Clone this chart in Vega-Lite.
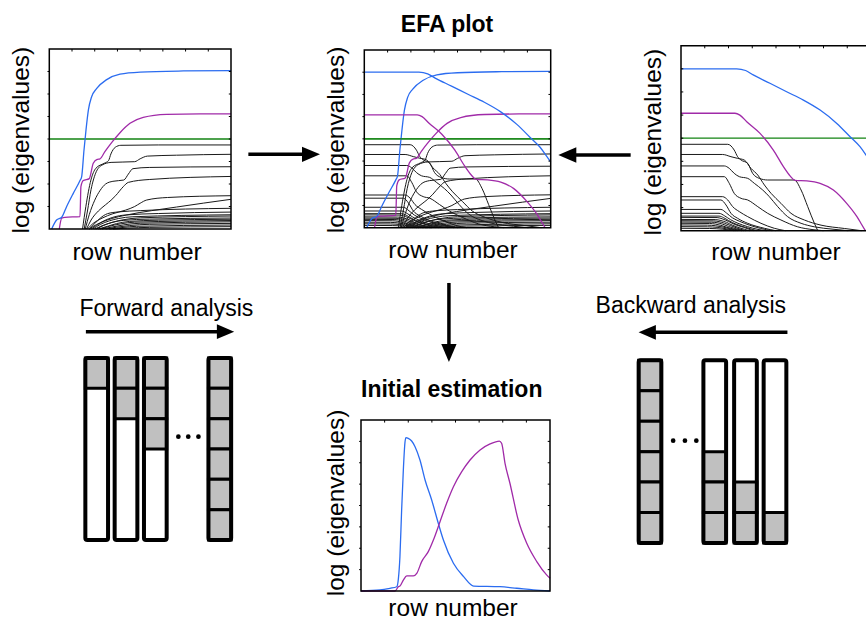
{
"$schema":"https://vega.github.io/schema/vega-lite/v6.json",
"width":866,"height":623,"autosize":{"type":"none"},"padding":0,"background":"white",
"config":{"view":{"stroke":null},"font":"Liberation Sans","axis":{"grid":false}},
"datasets":{
"ticks":[{"t":12.5},{"t":25},{"t":37.5},{"t":50},{"t":62.5},{"t":75},{"t":87.5}],
"fwd":[
{"id":"F1","kind":"black","x":18.3,"y":0},{"id":"F1","kind":"black","x":20.1,"y":12.4},{"id":"F1","kind":"black","x":22.9,"y":27.2},{"id":"F1","kind":"black","x":25.6,"y":33.7},{"id":"F1","kind":"black","x":30.2,"y":36.5},{"id":"F1","kind":"black","x":32.6,"y":38},{"id":"F1","kind":"black","x":33.9,"y":41.7},{"id":"F1","kind":"black","x":36.3,"y":45.4},{"id":"F1","kind":"black","x":39.4,"y":46.5},{"id":"F1","kind":"black","x":60,"y":46.7},{"id":"F1","kind":"black","x":100,"y":46.7},
{"id":"F2","kind":"black","x":19.2,"y":0},{"id":"F2","kind":"black","x":21,"y":10},{"id":"F2","kind":"black","x":23,"y":22},{"id":"F2","kind":"black","x":25.5,"y":31},{"id":"F2","kind":"black","x":29,"y":35.5},{"id":"F2","kind":"black","x":34,"y":37},{"id":"F2","kind":"black","x":47,"y":37.4},{"id":"F2","kind":"black","x":50,"y":39},{"id":"F2","kind":"black","x":54,"y":40.5},{"id":"F2","kind":"black","x":70,"y":41},{"id":"F2","kind":"black","x":100,"y":41.5},
{"id":"F3","kind":"black","x":19.8,"y":0},{"id":"F3","kind":"black","x":22,"y":8},{"id":"F3","kind":"black","x":25,"y":16},{"id":"F3","kind":"black","x":28,"y":21.5},{"id":"F3","kind":"black","x":31,"y":25},{"id":"F3","kind":"black","x":35,"y":26.5},{"id":"F3","kind":"black","x":41,"y":27.2},{"id":"F3","kind":"black","x":43.5,"y":30.5},{"id":"F3","kind":"black","x":46,"y":33.5},{"id":"F3","kind":"black","x":55,"y":34.2},{"id":"F3","kind":"black","x":100,"y":34.6},
{"id":"F4","kind":"black","x":20.5,"y":0},{"id":"F4","kind":"black","x":23,"y":5},{"id":"F4","kind":"black","x":27,"y":10},{"id":"F4","kind":"black","x":31,"y":13.5},{"id":"F4","kind":"black","x":34,"y":16},{"id":"F4","kind":"black","x":36.5,"y":18.5},{"id":"F4","kind":"black","x":40.7,"y":23.5},{"id":"F4","kind":"black","x":43.5,"y":25.9},{"id":"F4","kind":"black","x":55,"y":27.5},{"id":"F4","kind":"black","x":100,"y":29.2},
{"id":"F5","kind":"black","x":21,"y":0},{"id":"F5","kind":"black","x":24,"y":3},{"id":"F5","kind":"black","x":29,"y":6},{"id":"F5","kind":"black","x":35,"y":8.5},{"id":"F5","kind":"black","x":42,"y":10.5},{"id":"F5","kind":"black","x":47,"y":12.5},{"id":"F5","kind":"black","x":50,"y":14.3},{"id":"F5","kind":"black","x":53.6,"y":16.1},{"id":"F5","kind":"black","x":65,"y":17.5},{"id":"F5","kind":"black","x":100,"y":18.5},
{"id":"F6","kind":"black","x":22,"y":0},{"id":"F6","kind":"black","x":26,"y":2.5},{"id":"F6","kind":"black","x":32,"y":5},{"id":"F6","kind":"black","x":38,"y":6.8},{"id":"F6","kind":"black","x":42.6,"y":7.8},{"id":"F6","kind":"black","x":70,"y":12.2},{"id":"F6","kind":"black","x":100,"y":16.5},
{"id":"F7","kind":"black","x":22,"y":0},{"id":"F7","kind":"black","x":25,"y":3},{"id":"F7","kind":"black","x":28,"y":6},{"id":"F7","kind":"black","x":32,"y":8.5},{"id":"F7","kind":"black","x":38,"y":9.5},{"id":"F7","kind":"black","x":50,"y":10.2},{"id":"F7","kind":"black","x":100,"y":11.5},
{"id":"F8","kind":"black","x":23,"y":0},{"id":"F8","kind":"black","x":26,"y":2},{"id":"F8","kind":"black","x":30,"y":4.5},{"id":"F8","kind":"black","x":35,"y":6.5},{"id":"F8","kind":"black","x":42,"y":7.8},{"id":"F8","kind":"black","x":60,"y":8.6},{"id":"F8","kind":"black","x":100,"y":9.4},
{"id":"F9","kind":"black","x":24,"y":0},{"id":"F9","kind":"black","x":28,"y":2.5},{"id":"F9","kind":"black","x":33,"y":4.5},{"id":"F9","kind":"black","x":38,"y":5.8},{"id":"F9","kind":"black","x":46,"y":6.8},{"id":"F9","kind":"black","x":100,"y":7.9},
{"id":"F10","kind":"black","x":25,"y":0},{"id":"F10","kind":"black","x":29,"y":1.8},{"id":"F10","kind":"black","x":34,"y":3.5},{"id":"F10","kind":"black","x":40,"y":5},{"id":"F10","kind":"black","x":50,"y":6.2},{"id":"F10","kind":"black","x":100,"y":7.2},
{"id":"F11","kind":"black","x":26,"y":0},{"id":"F11","kind":"black","x":30,"y":2},{"id":"F11","kind":"black","x":35,"y":3.8},{"id":"F11","kind":"black","x":41,"y":4.8},{"id":"F11","kind":"black","x":55,"y":5.5},{"id":"F11","kind":"black","x":100,"y":6.1},
{"id":"F12","kind":"black","x":27,"y":0},{"id":"F12","kind":"black","x":32,"y":1.5},{"id":"F12","kind":"black","x":37,"y":3},{"id":"F12","kind":"black","x":44,"y":4.2},{"id":"F12","kind":"black","x":60,"y":4.9},{"id":"F12","kind":"black","x":100,"y":5.4},
{"id":"F13","kind":"black","x":28,"y":0},{"id":"F13","kind":"black","x":33,"y":1.5},{"id":"F13","kind":"black","x":39,"y":2.8},{"id":"F13","kind":"black","x":47,"y":3.8},{"id":"F13","kind":"black","x":100,"y":4.7},
{"id":"F14","kind":"black","x":29,"y":0},{"id":"F14","kind":"black","x":35,"y":1.2},{"id":"F14","kind":"black","x":41,"y":2.3},{"id":"F14","kind":"black","x":50,"y":3.2},{"id":"F14","kind":"black","x":100,"y":4},
{"id":"F15","kind":"black","x":31,"y":0},{"id":"F15","kind":"black","x":37,"y":1},{"id":"F15","kind":"black","x":44,"y":1.9},{"id":"F15","kind":"black","x":55,"y":2.6},{"id":"F15","kind":"black","x":100,"y":3.1},
{"id":"F16","kind":"black","x":33,"y":0},{"id":"F16","kind":"black","x":40,"y":0.8},{"id":"F16","kind":"black","x":48,"y":1.5},{"id":"F16","kind":"black","x":100,"y":2.2},
{"id":"F17","kind":"black","x":35,"y":0},{"id":"F17","kind":"black","x":43,"y":0.5},{"id":"F17","kind":"black","x":55,"y":0.9},{"id":"F17","kind":"black","x":100,"y":1.3},
{"id":"FG","kind":"green","x":0,"y":50},{"id":"FG","kind":"green","x":100,"y":50},
{"id":"FM","kind":"magenta","x":5.5,"y":0},{"id":"FM","kind":"magenta","x":6.8,"y":6},{"id":"FM","kind":"magenta","x":8.6,"y":6.5},{"id":"FM","kind":"magenta","x":16.9,"y":6.9},{"id":"FM","kind":"magenta","x":17.4,"y":23.5},{"id":"FM","kind":"magenta","x":18.7,"y":26.9},{"id":"FM","kind":"magenta","x":22,"y":28},{"id":"FM","kind":"magenta","x":24.2,"y":36.5},{"id":"FM","kind":"magenta","x":26.4,"y":38.7},{"id":"FM","kind":"magenta","x":27.9,"y":39},{"id":"FM","kind":"magenta","x":30.6,"y":43},{"id":"FM","kind":"magenta","x":34.3,"y":48},{"id":"FM","kind":"magenta","x":38.9,"y":53.5},{"id":"FM","kind":"magenta","x":44.4,"y":58.7},{"id":"FM","kind":"magenta","x":51.7,"y":62},{"id":"FM","kind":"magenta","x":64.6,"y":63.7},{"id":"FM","kind":"magenta","x":83,"y":64},{"id":"FM","kind":"magenta","x":100,"y":64},
{"id":"FB","kind":"blue","x":1.3,"y":0},{"id":"FB","kind":"blue","x":4,"y":5},{"id":"FB","kind":"blue","x":6.8,"y":6.5},{"id":"FB","kind":"blue","x":9.5,"y":12.4},{"id":"FB","kind":"blue","x":13.2,"y":19.8},{"id":"FB","kind":"blue","x":16.9,"y":26.9},{"id":"FB","kind":"blue","x":17.8,"y":29},{"id":"FB","kind":"blue","x":19.1,"y":43.9},{"id":"FB","kind":"blue","x":20.2,"y":55},{"id":"FB","kind":"blue","x":21.5,"y":66},{"id":"FB","kind":"blue","x":23.3,"y":73.5},{"id":"FB","kind":"blue","x":26,"y":78},{"id":"FB","kind":"blue","x":31.6,"y":83},{"id":"FB","kind":"blue","x":38.9,"y":86},{"id":"FB","kind":"blue","x":50,"y":87.2},{"id":"FB","kind":"blue","x":73.8,"y":87.8},{"id":"FB","kind":"blue","x":100,"y":88}
],
"bwd":[
{"id":"B1","kind":"black","x":0,"y":46.7},{"id":"B1","kind":"black","x":24.6,"y":46.7},{"id":"B1","kind":"black","x":28,"y":43.6},{"id":"B1","kind":"black","x":29.8,"y":40},{"id":"B1","kind":"black","x":31.6,"y":38.2},{"id":"B1","kind":"black","x":35.1,"y":36.4},{"id":"B1","kind":"black","x":37.7,"y":31},{"id":"B1","kind":"black","x":41.2,"y":28.3},{"id":"B1","kind":"black","x":45.6,"y":27.4},{"id":"B1","kind":"black","x":59.6,"y":27.4},{"id":"B1","kind":"black","x":63.2,"y":22},{"id":"B1","kind":"black","x":66.7,"y":13},{"id":"B1","kind":"black","x":70.2,"y":4},{"id":"B1","kind":"black","x":72,"y":0},
{"id":"B2","kind":"black","x":0,"y":41.2},{"id":"B2","kind":"black","x":21.9,"y":41.2},{"id":"B2","kind":"black","x":26.3,"y":40},{"id":"B2","kind":"black","x":29.8,"y":39.1},{"id":"B2","kind":"black","x":33.3,"y":38.2},{"id":"B2","kind":"black","x":36.8,"y":33.7},{"id":"B2","kind":"black","x":40.4,"y":30.1},{"id":"B2","kind":"black","x":43.9,"y":24.7},{"id":"B2","kind":"black","x":47.4,"y":20.2},{"id":"B2","kind":"black","x":52.6,"y":14.8},{"id":"B2","kind":"black","x":57.9,"y":9.4},{"id":"B2","kind":"black","x":64.9,"y":5.8},{"id":"B2","kind":"black","x":73.7,"y":3},{"id":"B2","kind":"black","x":86,"y":1.2},{"id":"B2","kind":"black","x":95,"y":0},
{"id":"B3","kind":"black","x":0,"y":35},{"id":"B3","kind":"black","x":22.8,"y":35},{"id":"B3","kind":"black","x":25.4,"y":33.7},{"id":"B3","kind":"black","x":28,"y":31},{"id":"B3","kind":"black","x":30.7,"y":29.2},{"id":"B3","kind":"black","x":35.1,"y":28.3},{"id":"B3","kind":"black","x":38.6,"y":25.6},{"id":"B3","kind":"black","x":43,"y":22},{"id":"B3","kind":"black","x":46.5,"y":18.4},{"id":"B3","kind":"black","x":50.9,"y":13},{"id":"B3","kind":"black","x":56.1,"y":7.6},{"id":"B3","kind":"black","x":63.2,"y":4},{"id":"B3","kind":"black","x":70.2,"y":2.1},{"id":"B3","kind":"black","x":80,"y":0.8},{"id":"B3","kind":"black","x":88,"y":0},
{"id":"B4","kind":"black","x":0,"y":29.2},{"id":"B4","kind":"black","x":22.8,"y":29.2},{"id":"B4","kind":"black","x":25.4,"y":25.6},{"id":"B4","kind":"black","x":28,"y":20.2},{"id":"B4","kind":"black","x":31.6,"y":17.5},{"id":"B4","kind":"black","x":35.1,"y":16.6},{"id":"B4","kind":"black","x":40.4,"y":13},{"id":"B4","kind":"black","x":45.6,"y":9.4},{"id":"B4","kind":"black","x":52.6,"y":5.8},{"id":"B4","kind":"black","x":61.4,"y":2.1},{"id":"B4","kind":"black","x":70,"y":0.5},{"id":"B4","kind":"black","x":75,"y":0},
{"id":"B5","kind":"black","x":0,"y":18.4},{"id":"B5","kind":"black","x":21.9,"y":18.4},{"id":"B5","kind":"black","x":24.6,"y":16.6},{"id":"B5","kind":"black","x":27.2,"y":13},{"id":"B5","kind":"black","x":30.7,"y":10.3},{"id":"B5","kind":"black","x":35.1,"y":7.6},{"id":"B5","kind":"black","x":42.1,"y":4},{"id":"B5","kind":"black","x":49.1,"y":1.3},{"id":"B5","kind":"black","x":55,"y":0},
{"id":"B6","kind":"black","x":0,"y":16.6},{"id":"B6","kind":"black","x":21,"y":16.6},{"id":"B6","kind":"black","x":23.7,"y":13.9},{"id":"B6","kind":"black","x":26.3,"y":9.4},{"id":"B6","kind":"black","x":29.8,"y":6.7},{"id":"B6","kind":"black","x":35.1,"y":4},{"id":"B6","kind":"black","x":43.9,"y":1.3},{"id":"B6","kind":"black","x":50,"y":0},
{"id":"B7","kind":"black","x":0,"y":11.5},{"id":"B7","kind":"black","x":21,"y":11.5},{"id":"B7","kind":"black","x":24,"y":9.5},{"id":"B7","kind":"black","x":27,"y":7},{"id":"B7","kind":"black","x":31,"y":5},{"id":"B7","kind":"black","x":36,"y":3},{"id":"B7","kind":"black","x":42,"y":1.2},{"id":"B7","kind":"black","x":48,"y":0},
{"id":"B8","kind":"black","x":0,"y":9.4},{"id":"B8","kind":"black","x":20,"y":9.4},{"id":"B8","kind":"black","x":23,"y":8},{"id":"B8","kind":"black","x":26,"y":6},{"id":"B8","kind":"black","x":30,"y":4},{"id":"B8","kind":"black","x":35,"y":2.2},{"id":"B8","kind":"black","x":40,"y":0.8},{"id":"B8","kind":"black","x":45,"y":0},
{"id":"B9","kind":"black","x":0,"y":7.9},{"id":"B9","kind":"black","x":20,"y":7.9},{"id":"B9","kind":"black","x":22.5,"y":7},{"id":"B9","kind":"black","x":25,"y":5.5},{"id":"B9","kind":"black","x":29,"y":3.5},{"id":"B9","kind":"black","x":34,"y":1.8},{"id":"B9","kind":"black","x":40,"y":0},
{"id":"B10","kind":"black","x":0,"y":7.2},{"id":"B10","kind":"black","x":19,"y":7.1},{"id":"B10","kind":"black","x":22,"y":6.3},{"id":"B10","kind":"black","x":25,"y":5},{"id":"B10","kind":"black","x":28,"y":3.5},{"id":"B10","kind":"black","x":33,"y":1.8},{"id":"B10","kind":"black","x":38,"y":0},
{"id":"B11","kind":"black","x":0,"y":6.1},{"id":"B11","kind":"black","x":18,"y":6},{"id":"B11","kind":"black","x":21,"y":5.5},{"id":"B11","kind":"black","x":24,"y":4.5},{"id":"B11","kind":"black","x":27,"y":3},{"id":"B11","kind":"black","x":31,"y":1.5},{"id":"B11","kind":"black","x":36,"y":0},
{"id":"B12","kind":"black","x":0,"y":5.4},{"id":"B12","kind":"black","x":17,"y":5.3},{"id":"B12","kind":"black","x":20,"y":4.9},{"id":"B12","kind":"black","x":23,"y":4},{"id":"B12","kind":"black","x":26,"y":2.8},{"id":"B12","kind":"black","x":30,"y":1.2},{"id":"B12","kind":"black","x":34,"y":0},
{"id":"B13","kind":"black","x":0,"y":4.7},{"id":"B13","kind":"black","x":16,"y":4.6},{"id":"B13","kind":"black","x":19,"y":4.3},{"id":"B13","kind":"black","x":22,"y":3.5},{"id":"B13","kind":"black","x":25,"y":2.3},{"id":"B13","kind":"black","x":29,"y":1},{"id":"B13","kind":"black","x":33,"y":0},
{"id":"B14","kind":"black","x":0,"y":4},{"id":"B14","kind":"black","x":15,"y":3.9},{"id":"B14","kind":"black","x":18,"y":3.6},{"id":"B14","kind":"black","x":21,"y":2.9},{"id":"B14","kind":"black","x":24,"y":1.9},{"id":"B14","kind":"black","x":28,"y":0.8},{"id":"B14","kind":"black","x":32,"y":0},
{"id":"B15","kind":"black","x":0,"y":3.1},{"id":"B15","kind":"black","x":14,"y":3},{"id":"B15","kind":"black","x":18,"y":2.7},{"id":"B15","kind":"black","x":22,"y":2},{"id":"B15","kind":"black","x":26,"y":1},{"id":"B15","kind":"black","x":30,"y":0},
{"id":"B16","kind":"black","x":0,"y":2.2},{"id":"B16","kind":"black","x":14,"y":2.1},{"id":"B16","kind":"black","x":19,"y":1.8},{"id":"B16","kind":"black","x":24,"y":1},{"id":"B16","kind":"black","x":29,"y":0},
{"id":"B17","kind":"black","x":0,"y":1.3},{"id":"B17","kind":"black","x":15,"y":1.2},{"id":"B17","kind":"black","x":22,"y":0.8},{"id":"B17","kind":"black","x":28,"y":0},
{"id":"BG","kind":"green","x":0,"y":50},{"id":"BG","kind":"green","x":100,"y":50},
{"id":"BM","kind":"magenta","x":0,"y":63.5},{"id":"BM","kind":"magenta","x":28.4,"y":63.5},{"id":"BM","kind":"magenta","x":31,"y":62.5},{"id":"BM","kind":"magenta","x":34.6,"y":58.9},{"id":"BM","kind":"magenta","x":41.6,"y":52.6},{"id":"BM","kind":"magenta","x":48.6,"y":43.6},{"id":"BM","kind":"magenta","x":53.9,"y":34.6},{"id":"BM","kind":"magenta","x":57.5,"y":29.5},{"id":"BM","kind":"magenta","x":60,"y":27.2},{"id":"BM","kind":"magenta","x":66.2,"y":26.9},{"id":"BM","kind":"magenta","x":73.2,"y":25.6},{"id":"BM","kind":"magenta","x":80.2,"y":22},{"id":"BM","kind":"magenta","x":87.2,"y":14.8},{"id":"BM","kind":"magenta","x":92.6,"y":7.6},{"id":"BM","kind":"magenta","x":95,"y":3.5},{"id":"BM","kind":"magenta","x":97,"y":0},
{"id":"BB","kind":"blue","x":0,"y":87.5},{"id":"BB","kind":"blue","x":29.3,"y":87.5},{"id":"BB","kind":"blue","x":34,"y":86.6},{"id":"BB","kind":"blue","x":38,"y":84.2},{"id":"BB","kind":"blue","x":46.8,"y":79.7},{"id":"BB","kind":"blue","x":55.6,"y":75.1},{"id":"BB","kind":"blue","x":64.4,"y":70.6},{"id":"BB","kind":"blue","x":73.2,"y":65.2},{"id":"BB","kind":"blue","x":82,"y":58},{"id":"BB","kind":"blue","x":89,"y":50.8},{"id":"BB","kind":"blue","x":94.2,"y":45.4},{"id":"BB","kind":"blue","x":97.4,"y":40.9},{"id":"BB","kind":"blue","x":100,"y":37}
],
"init":[
{"id":"IB","kind":"blue","x":0,"y":0},{"id":"IB","kind":"blue","x":10,"y":0.6},{"id":"IB","kind":"blue","x":15.3,"y":1.6},{"id":"IB","kind":"blue","x":18.9,"y":2.5},{"id":"IB","kind":"blue","x":19.8,"y":7.4},{"id":"IB","kind":"blue","x":20.6,"y":20},{"id":"IB","kind":"blue","x":21.5,"y":47.4},{"id":"IB","kind":"blue","x":22.4,"y":70.8},{"id":"IB","kind":"blue","x":23.3,"y":87.3},{"id":"IB","kind":"blue","x":23.8,"y":89.7},{"id":"IB","kind":"blue","x":25,"y":89.3},{"id":"IB","kind":"blue","x":26.8,"y":87.7},{"id":"IB","kind":"blue","x":28.6,"y":84.4},{"id":"IB","kind":"blue","x":31.2,"y":76.6},{"id":"IB","kind":"blue","x":33.9,"y":64.9},{"id":"IB","kind":"blue","x":37.4,"y":53.2},{"id":"IB","kind":"blue","x":40.9,"y":39.6},{"id":"IB","kind":"blue","x":43.6,"y":29.8},{"id":"IB","kind":"blue","x":48.9,"y":16.2},{"id":"IB","kind":"blue","x":54.3,"y":8.4},{"id":"IB","kind":"blue","x":59.6,"y":2.9},{"id":"IB","kind":"blue","x":73.5,"y":2.5},{"id":"IB","kind":"blue","x":82.4,"y":1.6},{"id":"IB","kind":"blue","x":91.2,"y":0.6},{"id":"IB","kind":"blue","x":100,"y":0},
{"id":"IM","kind":"magenta","x":0,"y":0},{"id":"IM","kind":"magenta","x":18,"y":0},{"id":"IM","kind":"magenta","x":19.8,"y":2.5},{"id":"IM","kind":"magenta","x":20.6,"y":2.9},{"id":"IM","kind":"magenta","x":22.4,"y":6.4},{"id":"IM","kind":"magenta","x":24.2,"y":8.8},{"id":"IM","kind":"magenta","x":27.7,"y":8.8},{"id":"IM","kind":"magenta","x":29.5,"y":10.3},{"id":"IM","kind":"magenta","x":32.1,"y":17.2},{"id":"IM","kind":"magenta","x":35.6,"y":23},{"id":"IM","kind":"magenta","x":38.3,"y":29.8},{"id":"IM","kind":"magenta","x":41.8,"y":40.5},{"id":"IM","kind":"magenta","x":45.3,"y":51.3},{"id":"IM","kind":"magenta","x":48.9,"y":61},{"id":"IM","kind":"magenta","x":53.3,"y":69.8},{"id":"IM","kind":"magenta","x":57.7,"y":76.6},{"id":"IM","kind":"magenta","x":63,"y":82.5},{"id":"IM","kind":"magenta","x":68.3,"y":86},{"id":"IM","kind":"magenta","x":73.2,"y":87.7},{"id":"IM","kind":"magenta","x":74.4,"y":86.4},{"id":"IM","kind":"magenta","x":76.2,"y":74.7},{"id":"IM","kind":"magenta","x":78.8,"y":63},{"id":"IM","kind":"magenta","x":83.2,"y":41.5},{"id":"IM","kind":"magenta","x":87.7,"y":27.9},{"id":"IM","kind":"magenta","x":93,"y":17.2},{"id":"IM","kind":"magenta","x":98.2,"y":9.4},{"id":"IM","kind":"magenta","x":100,"y":7.4}
],
"fcells":[{"col":0,"c0":0,"c1":1},{"col":1,"c0":0,"c1":1},{"col":1,"c0":1,"c1":2},{"col":2,"c0":0,"c1":1},{"col":2,"c0":1,"c1":2},{"col":2,"c0":2,"c1":3},{"col":4.2,"c0":0,"c1":1},{"col":4.2,"c0":1,"c1":2},{"col":4.2,"c0":2,"c1":3},{"col":4.2,"c0":3,"c1":4},{"col":4.2,"c0":4,"c1":5},{"col":4.2,"c0":5,"c1":6}],
"fcols":[{"col":0},{"col":1},{"col":2},{"col":4.2}],
"fdots":[{"d":2.786},{"d":3.124},{"d":3.471}],
"bcells":[{"col":0,"c0":0,"c1":1},{"col":0,"c0":1,"c1":2},{"col":0,"c0":2,"c1":3},{"col":0,"c0":3,"c1":4},{"col":0,"c0":4,"c1":5},{"col":0,"c0":5,"c1":6},{"col":2.15,"c0":3,"c1":4},{"col":2.15,"c0":4,"c1":5},{"col":2.15,"c0":5,"c1":6},{"col":3.17,"c0":4,"c1":5},{"col":3.17,"c0":5,"c1":6},{"col":4.15,"c0":5,"c1":6}],
"bcols":[{"col":0},{"col":2.15},{"col":3.17},{"col":4.15}],
"bdots":[{"d":0.769},{"d":1.16},{"d":1.538}]
},
"layer":[
{"layer":[
 {"data":{"name":"fwd"},"transform":[{"filter":"datum.kind == 'black'"}],"mark":{"type":"line","interpolate":"monotone","strokeWidth":1,"color":"#1a1a1a"},
  "encoding":{"x":{"field":"x","type":"quantitative","scale":{"domain":[0,100],"range":[49.3,231],"nice":false,"zero":false},"axis":null},
   "y":{"field":"y","type":"quantitative","scale":{"domain":[0,100],"range":[229,49],"nice":false,"zero":false},"axis":null},
   "detail":{"field":"id"}}},
 {"data":{"name":"fwd"},"transform":[{"filter":"datum.kind != 'black'"}],"mark":{"type":"line","interpolate":"monotone","strokeWidth":1.3},
  "encoding":{"x":{"field":"x","type":"quantitative","scale":{"domain":[0,100],"range":[49.3,231],"nice":false,"zero":false},"axis":null},
   "y":{"field":"y","type":"quantitative","scale":{"domain":[0,100],"range":[229,49],"nice":false,"zero":false},"axis":null},
   "detail":{"field":"id"},"color":{"field":"kind","type":"nominal","scale":{"domain":["blue","magenta","green"],"range":["#2b6cf0","#a02aa8","#128312"]},"legend":null}}},
 {"data":{"values":[{}]},"mark":{"type":"rect","filled":false,"color":"#000","strokeWidth":1.5},
  "encoding":{"x":{"datum":0,"type":"quantitative","scale":{"domain":[0,100],"range":[49.3,231],"nice":false,"zero":false},"axis":null},"x2":{"datum":100},
   "y":{"datum":0,"type":"quantitative","scale":{"domain":[0,100],"range":[229,49],"nice":false,"zero":false},"axis":null},"y2":{"datum":100}}},
 {"data":{"name":"ticks"},"mark":{"type":"rule","color":"#000","strokeWidth":1},
  "encoding":{"x":{"field":"t","type":"quantitative","scale":{"domain":[0,100],"range":[49.3,231],"nice":false,"zero":false},"axis":null},
   "y":{"datum":100,"type":"quantitative","scale":{"domain":[0,100],"range":[229,49],"nice":false,"zero":false},"axis":null},"y2":{"datum":98.6}}},
 {"data":{"name":"ticks"},"mark":{"type":"rule","color":"#000","strokeWidth":1},
  "encoding":{"y":{"field":"t","type":"quantitative","scale":{"domain":[0,100],"range":[229,49],"nice":false,"zero":false},"axis":null},
   "x":{"datum":-1,"type":"quantitative","scale":{"domain":[0,100],"range":[49.3,231],"nice":false,"zero":false},"axis":null},"x2":{"datum":0}}},
 {"data":{"name":"ticks"},"mark":{"type":"rule","color":"#000","strokeWidth":1},
  "encoding":{"y":{"field":"t","type":"quantitative","scale":{"domain":[0,100],"range":[229,49],"nice":false,"zero":false},"axis":null},
   "x":{"datum":98.8,"type":"quantitative","scale":{"domain":[0,100],"range":[49.3,231],"nice":false,"zero":false},"axis":null},"x2":{"datum":100}}},
 {"data":{"values":[{}]},"mark":{"type":"text","text":"row number","fontSize":24.5,"align":"center","baseline":"alphabetic","color":"#000"},
  "encoding":{"x":{"datum":48.3,"type":"quantitative","scale":{"domain":[0,100],"range":[49.3,231],"nice":false,"zero":false},"axis":null},
   "y":{"datum":-17.2,"type":"quantitative","scale":{"domain":[0,100],"range":[229,49],"nice":false,"zero":false},"axis":null}}},
 {"data":{"values":[{}]},"mark":{"type":"text","text":"log (eigenvalues)","fontSize":24.5,"align":"center","baseline":"middle","angle":270,"color":"#000"},
  "encoding":{"x":{"datum":-15,"type":"quantitative","scale":{"domain":[0,100],"range":[49.3,231],"nice":false,"zero":false},"axis":null},
   "y":{"datum":49.4,"type":"quantitative","scale":{"domain":[0,100],"range":[229,49],"nice":false,"zero":false},"axis":null}}}
]},
{"layer":[
 {"data":{"name":"fwd"},"transform":[{"filter":"datum.kind == 'black'"}],"mark":{"type":"line","interpolate":"monotone","strokeWidth":1,"color":"#1a1a1a"},
  "encoding":{"x":{"field":"x","type":"quantitative","scale":{"domain":[0,100],"range":[364.3,550.7],"nice":false,"zero":false},"axis":null},
   "y":{"field":"y","type":"quantitative","scale":{"domain":[0,100],"range":[227.7,50],"nice":false,"zero":false},"axis":null},
   "detail":{"field":"id"}}},
 {"data":{"name":"bwd"},"transform":[{"filter":"datum.kind == 'black'"}],"mark":{"type":"line","interpolate":"monotone","strokeWidth":1,"color":"#1a1a1a"},
  "encoding":{"x":{"field":"x","type":"quantitative","scale":{"domain":[0,100],"range":[364.3,550.7],"nice":false,"zero":false},"axis":null},
   "y":{"field":"y","type":"quantitative","scale":{"domain":[0,100],"range":[227.7,50],"nice":false,"zero":false},"axis":null},
   "detail":{"field":"id"}}},
 {"data":{"name":"fwd"},"transform":[{"filter":"datum.kind != 'black'"}],"mark":{"type":"line","interpolate":"monotone","strokeWidth":1.3},
  "encoding":{"x":{"field":"x","type":"quantitative","scale":{"domain":[0,100],"range":[364.3,550.7],"nice":false,"zero":false},"axis":null},
   "y":{"field":"y","type":"quantitative","scale":{"domain":[0,100],"range":[227.7,50],"nice":false,"zero":false},"axis":null},
   "detail":{"field":"id"},"color":{"field":"kind","type":"nominal","scale":{"domain":["blue","magenta","green"],"range":["#2b6cf0","#a02aa8","#128312"]},"legend":null}}},
 {"data":{"name":"bwd"},"transform":[{"filter":"datum.kind != 'black'"}],"mark":{"type":"line","interpolate":"monotone","strokeWidth":1.3},
  "encoding":{"x":{"field":"x","type":"quantitative","scale":{"domain":[0,100],"range":[364.3,550.7],"nice":false,"zero":false},"axis":null},
   "y":{"field":"y","type":"quantitative","scale":{"domain":[0,100],"range":[227.7,50],"nice":false,"zero":false},"axis":null},
   "detail":{"field":"id"},"color":{"field":"kind","type":"nominal","scale":{"domain":["blue","magenta","green"],"range":["#2b6cf0","#a02aa8","#128312"]},"legend":null}}},
 {"data":{"values":[{}]},"mark":{"type":"rect","filled":false,"color":"#000","strokeWidth":1.5},
  "encoding":{"x":{"datum":0,"type":"quantitative","scale":{"domain":[0,100],"range":[364.3,550.7],"nice":false,"zero":false},"axis":null},"x2":{"datum":100},
   "y":{"datum":0,"type":"quantitative","scale":{"domain":[0,100],"range":[227.7,50],"nice":false,"zero":false},"axis":null},"y2":{"datum":100}}},
 {"data":{"name":"ticks"},"mark":{"type":"rule","color":"#000","strokeWidth":1},
  "encoding":{"x":{"field":"t","type":"quantitative","scale":{"domain":[0,100],"range":[364.3,550.7],"nice":false,"zero":false},"axis":null},
   "y":{"datum":100,"type":"quantitative","scale":{"domain":[0,100],"range":[227.7,50],"nice":false,"zero":false},"axis":null},"y2":{"datum":98.6}}},
 {"data":{"name":"ticks"},"mark":{"type":"rule","color":"#000","strokeWidth":1},
  "encoding":{"y":{"field":"t","type":"quantitative","scale":{"domain":[0,100],"range":[227.7,50],"nice":false,"zero":false},"axis":null},
   "x":{"datum":-1,"type":"quantitative","scale":{"domain":[0,100],"range":[364.3,550.7],"nice":false,"zero":false},"axis":null},"x2":{"datum":0}}},
 {"data":{"name":"ticks"},"mark":{"type":"rule","color":"#000","strokeWidth":1},
  "encoding":{"y":{"field":"t","type":"quantitative","scale":{"domain":[0,100],"range":[227.7,50],"nice":false,"zero":false},"axis":null},
   "x":{"datum":98.8,"type":"quantitative","scale":{"domain":[0,100],"range":[364.3,550.7],"nice":false,"zero":false},"axis":null},"x2":{"datum":100}}},
 {"data":{"values":[{}]},"mark":{"type":"text","text":"EFA plot","fontSize":23,"fontWeight":"bold","align":"center","baseline":"alphabetic","color":"#000"},
  "encoding":{"x":{"datum":44.4,"type":"quantitative","scale":{"domain":[0,100],"range":[364.3,550.7],"nice":false,"zero":false},"axis":null},
   "y":{"datum":110.3,"type":"quantitative","scale":{"domain":[0,100],"range":[227.7,50],"nice":false,"zero":false},"axis":null}}},
 {"data":{"values":[{}]},"mark":{"type":"text","text":"row number","fontSize":24.5,"align":"center","baseline":"alphabetic","color":"#000"},
  "encoding":{"x":{"datum":47.6,"type":"quantitative","scale":{"domain":[0,100],"range":[364.3,550.7],"nice":false,"zero":false},"axis":null},
   "y":{"datum":-17.2,"type":"quantitative","scale":{"domain":[0,100],"range":[227.7,50],"nice":false,"zero":false},"axis":null}}},
 {"data":{"values":[{}]},"mark":{"type":"text","text":"log (eigenvalues)","fontSize":24.5,"align":"center","baseline":"middle","angle":270,"color":"#000"},
  "encoding":{"x":{"datum":-14.6,"type":"quantitative","scale":{"domain":[0,100],"range":[364.3,550.7],"nice":false,"zero":false},"axis":null},
   "y":{"datum":49.4,"type":"quantitative","scale":{"domain":[0,100],"range":[227.7,50],"nice":false,"zero":false},"axis":null}}},
 {"data":{"values":[{}]},"mark":{"type":"rule","color":"#000","strokeWidth":3.5},
  "encoding":{"x":{"datum":-62.2,"type":"quantitative","scale":{"domain":[0,100],"range":[364.3,550.7],"nice":false,"zero":false},"axis":null},"x2":{"datum":-32.4},
   "y":{"datum":41.3,"type":"quantitative","scale":{"domain":[0,100],"range":[227.7,50],"nice":false,"zero":false},"axis":null}}},
 {"data":{"values":[{}]},"mark":{"type":"point","shape":"M1,0L-1,-0.85L-1,0.85Z","filled":true,"color":"#000","size":324,"opacity":1,"strokeWidth":0},
  "encoding":{"x":{"datum":-28.6,"type":"quantitative","scale":{"domain":[0,100],"range":[364.3,550.7],"nice":false,"zero":false},"axis":null},
   "y":{"datum":41.3,"type":"quantitative","scale":{"domain":[0,100],"range":[227.7,50],"nice":false,"zero":false},"axis":null}}},
 {"data":{"values":[{}]},"mark":{"type":"rule","color":"#000","strokeWidth":3.5},
  "encoding":{"x":{"datum":112.5,"type":"quantitative","scale":{"domain":[0,100],"range":[364.3,550.7],"nice":false,"zero":false},"axis":null},"x2":{"datum":142.9},
   "y":{"datum":40.9,"type":"quantitative","scale":{"domain":[0,100],"range":[227.7,50],"nice":false,"zero":false},"axis":null}}},
 {"data":{"values":[{}]},"mark":{"type":"point","shape":"M1,0L-1,-0.85L-1,0.85Z","filled":true,"color":"#000","size":324,"opacity":1,"strokeWidth":0,"angle":180},
  "encoding":{"x":{"datum":108.9,"type":"quantitative","scale":{"domain":[0,100],"range":[364.3,550.7],"nice":false,"zero":false},"axis":null},
   "y":{"datum":40.9,"type":"quantitative","scale":{"domain":[0,100],"range":[227.7,50],"nice":false,"zero":false},"axis":null}}},
 {"data":{"values":[{}]},"mark":{"type":"rule","color":"#000","strokeWidth":3.5},
  "encoding":{"x":{"datum":45.4,"type":"quantitative","scale":{"domain":[0,100],"range":[364.3,550.7],"nice":false,"zero":false},"axis":null},
   "y":{"datum":-31.1,"type":"quantitative","scale":{"domain":[0,100],"range":[227.7,50],"nice":false,"zero":false},"axis":null},"y2":{"datum":-67.7}}},
 {"data":{"values":[{}]},"mark":{"type":"point","shape":"M1,0L-1,-0.85L-1,0.85Z","filled":true,"color":"#000","size":324,"opacity":1,"strokeWidth":0,"angle":90},
  "encoding":{"x":{"datum":45.4,"type":"quantitative","scale":{"domain":[0,100],"range":[364.3,550.7],"nice":false,"zero":false},"axis":null},
   "y":{"datum":-70.5,"type":"quantitative","scale":{"domain":[0,100],"range":[227.7,50],"nice":false,"zero":false},"axis":null}}}
]},
{"layer":[
 {"data":{"name":"bwd"},"transform":[{"filter":"datum.kind == 'black'"}],"mark":{"type":"line","interpolate":"monotone","strokeWidth":1,"color":"#1a1a1a"},
  "encoding":{"x":{"field":"x","type":"quantitative","scale":{"domain":[0,100],"range":[681,871],"nice":false,"zero":false},"axis":null},
   "y":{"field":"y","type":"quantitative","scale":{"domain":[0,100],"range":[230.7,45.7],"nice":false,"zero":false},"axis":null},
   "detail":{"field":"id"}}},
 {"data":{"name":"bwd"},"transform":[{"filter":"datum.kind != 'black'"}],"mark":{"type":"line","interpolate":"monotone","strokeWidth":1.3},
  "encoding":{"x":{"field":"x","type":"quantitative","scale":{"domain":[0,100],"range":[681,871],"nice":false,"zero":false},"axis":null},
   "y":{"field":"y","type":"quantitative","scale":{"domain":[0,100],"range":[230.7,45.7],"nice":false,"zero":false},"axis":null},
   "detail":{"field":"id"},"color":{"field":"kind","type":"nominal","scale":{"domain":["blue","magenta","green"],"range":["#2b6cf0","#a02aa8","#128312"]},"legend":null}}},
 {"data":{"values":[{}]},"mark":{"type":"rect","filled":false,"color":"#000","strokeWidth":1.5},
  "encoding":{"x":{"datum":0,"type":"quantitative","scale":{"domain":[0,100],"range":[681,871],"nice":false,"zero":false},"axis":null},"x2":{"datum":100},
   "y":{"datum":0,"type":"quantitative","scale":{"domain":[0,100],"range":[230.7,45.7],"nice":false,"zero":false},"axis":null},"y2":{"datum":100}}},
 {"data":{"name":"ticks"},"mark":{"type":"rule","color":"#000","strokeWidth":1},
  "encoding":{"x":{"field":"t","type":"quantitative","scale":{"domain":[0,100],"range":[681,871],"nice":false,"zero":false},"axis":null},
   "y":{"datum":100,"type":"quantitative","scale":{"domain":[0,100],"range":[230.7,45.7],"nice":false,"zero":false},"axis":null},"y2":{"datum":98.6}}},
 {"data":{"name":"ticks"},"mark":{"type":"rule","color":"#000","strokeWidth":1},
  "encoding":{"y":{"field":"t","type":"quantitative","scale":{"domain":[0,100],"range":[230.7,45.7],"nice":false,"zero":false},"axis":null},
   "x":{"datum":0,"type":"quantitative","scale":{"domain":[0,100],"range":[681,871],"nice":false,"zero":false},"axis":null},"x2":{"datum":1.2}}},
 {"data":{"values":[{}]},"mark":{"type":"text","text":"row number","fontSize":24.5,"align":"center","baseline":"alphabetic","color":"#000"},
  "encoding":{"x":{"datum":50,"type":"quantitative","scale":{"domain":[0,100],"range":[681,871],"nice":false,"zero":false},"axis":null},
   "y":{"datum":-15.8,"type":"quantitative","scale":{"domain":[0,100],"range":[230.7,45.7],"nice":false,"zero":false},"axis":null}}},
 {"data":{"values":[{}]},"mark":{"type":"text","text":"log (eigenvalues)","fontSize":24.5,"align":"center","baseline":"middle","angle":270,"color":"#000"},
  "encoding":{"x":{"datum":-14.2,"type":"quantitative","scale":{"domain":[0,100],"range":[681,871],"nice":false,"zero":false},"axis":null},
   "y":{"datum":47.9,"type":"quantitative","scale":{"domain":[0,100],"range":[230.7,45.7],"nice":false,"zero":false},"axis":null}}}
]},
{"layer":[
 {"data":{"name":"init"},"mark":{"type":"line","interpolate":"monotone","strokeWidth":1.3},
  "encoding":{"x":{"field":"x","type":"quantitative","scale":{"domain":[0,100],"range":[361,550],"nice":false,"zero":false},"axis":null},
   "y":{"field":"y","type":"quantitative","scale":{"domain":[0,100],"range":[591,420],"nice":false,"zero":false},"axis":null},
   "detail":{"field":"id"},"color":{"field":"kind","type":"nominal","scale":{"domain":["blue","magenta","green"],"range":["#2b6cf0","#a02aa8","#128312"]},"legend":null}}},
 {"data":{"values":[{}]},"mark":{"type":"rect","filled":false,"color":"#000","strokeWidth":1.5},
  "encoding":{"x":{"datum":0,"type":"quantitative","scale":{"domain":[0,100],"range":[361,550],"nice":false,"zero":false},"axis":null},"x2":{"datum":100},
   "y":{"datum":0,"type":"quantitative","scale":{"domain":[0,100],"range":[591,420],"nice":false,"zero":false},"axis":null},"y2":{"datum":100}}},
 {"data":{"name":"ticks"},"mark":{"type":"rule","color":"#000","strokeWidth":1},
  "encoding":{"x":{"field":"t","type":"quantitative","scale":{"domain":[0,100],"range":[361,550],"nice":false,"zero":false},"axis":null},
   "y":{"datum":100,"type":"quantitative","scale":{"domain":[0,100],"range":[591,420],"nice":false,"zero":false},"axis":null},"y2":{"datum":98.5}}},
 {"data":{"name":"ticks"},"mark":{"type":"rule","color":"#000","strokeWidth":1},
  "encoding":{"y":{"field":"t","type":"quantitative","scale":{"domain":[0,100],"range":[591,420],"nice":false,"zero":false},"axis":null},
   "x":{"datum":-1,"type":"quantitative","scale":{"domain":[0,100],"range":[361,550],"nice":false,"zero":false},"axis":null},"x2":{"datum":0}}},
 {"data":{"name":"ticks"},"mark":{"type":"rule","color":"#000","strokeWidth":1},
  "encoding":{"y":{"field":"t","type":"quantitative","scale":{"domain":[0,100],"range":[591,420],"nice":false,"zero":false},"axis":null},
   "x":{"datum":98.8,"type":"quantitative","scale":{"domain":[0,100],"range":[361,550],"nice":false,"zero":false},"axis":null},"x2":{"datum":100}}},
 {"data":{"values":[{}]},"mark":{"type":"text","text":"Initial estimation","fontSize":23,"fontWeight":"bold","align":"center","baseline":"alphabetic","color":"#000"},
  "encoding":{"x":{"datum":48,"type":"quantitative","scale":{"domain":[0,100],"range":[361,550],"nice":false,"zero":false},"axis":null},
   "y":{"datum":113.6,"type":"quantitative","scale":{"domain":[0,100],"range":[591,420],"nice":false,"zero":false},"axis":null}}},
 {"data":{"values":[{}]},"mark":{"type":"text","text":"row number","fontSize":24.5,"align":"center","baseline":"alphabetic","color":"#000"},
  "encoding":{"x":{"datum":48.7,"type":"quantitative","scale":{"domain":[0,100],"range":[361,550],"nice":false,"zero":false},"axis":null},
   "y":{"datum":-14.9,"type":"quantitative","scale":{"domain":[0,100],"range":[591,420],"nice":false,"zero":false},"axis":null}}},
 {"data":{"values":[{}]},"mark":{"type":"text","text":"log (eigenvalues)","fontSize":24.5,"align":"center","baseline":"middle","angle":270,"color":"#000"},
  "encoding":{"x":{"datum":-12.7,"type":"quantitative","scale":{"domain":[0,100],"range":[361,550],"nice":false,"zero":false},"axis":null},
   "y":{"datum":51.5,"type":"quantitative","scale":{"domain":[0,100],"range":[591,420],"nice":false,"zero":false},"axis":null}}}
]},
{"layer":[
 {"data":{"name":"fcells"},"mark":{"type":"bar","width":22.7,"fill":"#c0c0c0","stroke":"#000","strokeWidth":3},
  "encoding":{"x":{"field":"col","type":"quantitative","scale":{"domain":[0,4.2],"range":[91.7,224.8],"nice":false,"zero":false},"axis":null},
   "y":{"field":"c0","type":"quantitative","scale":{"domain":[0,6],"range":[358,540],"nice":false,"zero":false},"axis":null},"y2":{"field":"c1"}}},
 {"data":{"name":"fcols"},"mark":{"type":"bar","width":22.7,"fill":"#fff","fillOpacity":0,"stroke":"#000","strokeWidth":4,"cornerRadius":2},
  "encoding":{"x":{"field":"col","type":"quantitative","scale":{"domain":[0,4.2],"range":[91.7,224.8],"nice":false,"zero":false},"axis":null},
   "y":{"datum":0,"type":"quantitative","scale":{"domain":[0,6],"range":[358,540],"nice":false,"zero":false},"axis":null},"y2":{"datum":6}}},
 {"data":{"name":"fdots"},"mark":{"type":"point","shape":"circle","filled":true,"color":"#000","size":22,"opacity":1},
  "encoding":{"x":{"field":"d","type":"quantitative","scale":{"domain":[0,4.2],"range":[91.7,224.8],"nice":false,"zero":false},"axis":null},
   "y":{"datum":2.595,"type":"quantitative","scale":{"domain":[0,6],"range":[358,540],"nice":false,"zero":false},"axis":null}}},
 {"data":{"values":[{}]},"mark":{"type":"rule","color":"#000","strokeWidth":3.5},
  "encoding":{"x":{"datum":-0.369,"type":"quantitative","scale":{"domain":[0,4.2],"range":[91.7,224.8],"nice":false,"zero":false},"axis":null},"x2":{"datum":4.24},
   "y":{"datum":-0.867,"type":"quantitative","scale":{"domain":[0,6],"range":[358,540],"nice":false,"zero":false},"axis":null}}},
 {"data":{"values":[{}]},"mark":{"type":"point","shape":"M1,0L-1,-0.85L-1,0.85Z","filled":true,"color":"#000","size":300,"opacity":1,"strokeWidth":0},
  "encoding":{"x":{"datum":4.396,"type":"quantitative","scale":{"domain":[0,4.2],"range":[91.7,224.8],"nice":false,"zero":false},"axis":null},
   "y":{"datum":-0.867,"type":"quantitative","scale":{"domain":[0,6],"range":[358,540],"nice":false,"zero":false},"axis":null}}},
 {"data":{"values":[{}]},"mark":{"type":"text","text":"Forward analysis","fontSize":23,"align":"center","baseline":"alphabetic","color":"#000"},
  "encoding":{"x":{"datum":2.376,"type":"quantitative","scale":{"domain":[0,4.2],"range":[91.7,224.8],"nice":false,"zero":false},"axis":null},
   "y":{"datum":-1.401,"type":"quantitative","scale":{"domain":[0,6],"range":[358,540],"nice":false,"zero":false},"axis":null}}}
]},
{"layer":[
 {"data":{"name":"bcells"},"mark":{"type":"bar","width":22.7,"fill":"#c0c0c0","stroke":"#000","strokeWidth":3},
  "encoding":{"x":{"field":"col","type":"quantitative","scale":{"domain":[0,4.2],"range":[645,781.5],"nice":false,"zero":false},"axis":null},
   "y":{"field":"c0","type":"quantitative","scale":{"domain":[0,6],"range":[360.3,543],"nice":false,"zero":false},"axis":null},"y2":{"field":"c1"}}},
 {"data":{"name":"bcols"},"mark":{"type":"bar","width":22.7,"fill":"#fff","fillOpacity":0,"stroke":"#000","strokeWidth":4,"cornerRadius":2},
  "encoding":{"x":{"field":"col","type":"quantitative","scale":{"domain":[0,4.2],"range":[645,781.5],"nice":false,"zero":false},"axis":null},
   "y":{"datum":0,"type":"quantitative","scale":{"domain":[0,6],"range":[360.3,543],"nice":false,"zero":false},"axis":null},"y2":{"datum":6}}},
 {"data":{"name":"bdots"},"mark":{"type":"point","shape":"circle","filled":true,"color":"#000","size":22,"opacity":1},
  "encoding":{"x":{"field":"d","type":"quantitative","scale":{"domain":[0,4.2],"range":[645,781.5],"nice":false,"zero":false},"axis":null},
   "y":{"datum":2.64,"type":"quantitative","scale":{"domain":[0,6],"range":[360.3,543],"nice":false,"zero":false},"axis":null}}},
 {"data":{"values":[{}]},"mark":{"type":"rule","color":"#000","strokeWidth":3.5},
  "encoding":{"x":{"datum":0.0,"type":"quantitative","scale":{"domain":[0,4.2],"range":[645,781.5],"nice":false,"zero":false},"axis":null},"x2":{"datum":4.563},
   "y":{"datum":-0.918,"type":"quantitative","scale":{"domain":[0,6],"range":[360.3,543],"nice":false,"zero":false},"axis":null}}},
 {"data":{"values":[{}]},"mark":{"type":"point","shape":"M1,0L-1,-0.85L-1,0.85Z","filled":true,"color":"#000","size":300,"opacity":1,"strokeWidth":0,"angle":180},
  "encoding":{"x":{"datum":-0.092,"type":"quantitative","scale":{"domain":[0,4.2],"range":[645,781.5],"nice":false,"zero":false},"axis":null},
   "y":{"datum":-0.918,"type":"quantitative","scale":{"domain":[0,6],"range":[360.3,543],"nice":false,"zero":false},"axis":null}}},
 {"data":{"values":[{}]},"mark":{"type":"text","text":"Backward analysis","fontSize":23,"align":"center","baseline":"alphabetic","color":"#000"},
  "encoding":{"x":{"datum":1.354,"type":"quantitative","scale":{"domain":[0,4.2],"range":[645,781.5],"nice":false,"zero":false},"axis":null},
   "y":{"datum":-1.541,"type":"quantitative","scale":{"domain":[0,6],"range":[360.3,543],"nice":false,"zero":false},"axis":null}}}
]}
],
"resolve":{"scale":{"x":"independent","y":"independent"}}
}
